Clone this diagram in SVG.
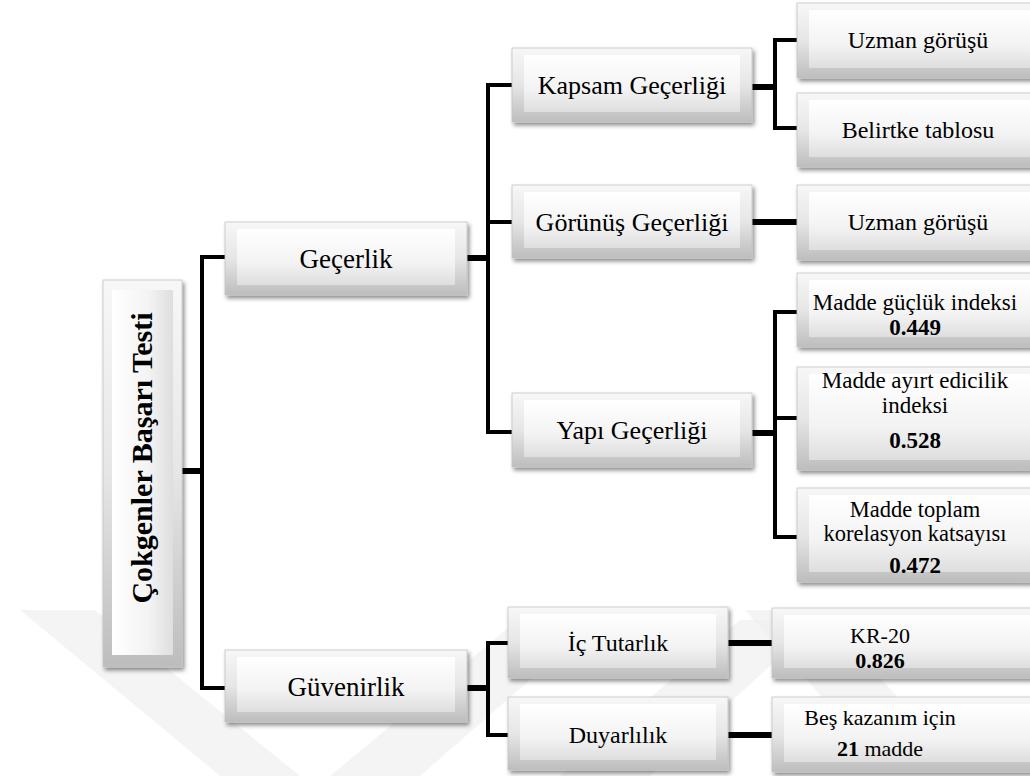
<svg xmlns="http://www.w3.org/2000/svg" width="1030" height="776" viewBox="0 0 1030 776">
<defs>
<linearGradient id="gOuter" x1="0" y1="0" x2="0" y2="1">
<stop offset="0" stop-color="#f7f7f7"/>
<stop offset="0.5" stop-color="#e6e6e6"/>
<stop offset="1" stop-color="#bdbdbd"/>
</linearGradient>
<linearGradient id="gInner" x1="0" y1="0" x2="0" y2="1">
<stop offset="0" stop-color="#ffffff"/>
<stop offset="0.6" stop-color="#f3f3f3"/>
<stop offset="1" stop-color="#dedede"/>
</linearGradient>
<linearGradient id="gInnerV" x1="0" y1="0" x2="1" y2="0">
<stop offset="0" stop-color="#ffffff"/>
<stop offset="0.6" stop-color="#f3f3f3"/>
<stop offset="1" stop-color="#dedede"/>
</linearGradient>
<filter id="sh" x="-10%" y="-20%" width="125%" height="150%">
<feDropShadow dx="2" dy="3" stdDeviation="2" flood-color="#000" flood-opacity="0.45"/>
</filter>
</defs>
<style>
.o{fill:url(#gOuter);stroke:#c4c4c4;stroke-width:0.8;filter:url(#sh)}
.i{fill:url(#gInner);stroke:none}
.t{font-family:"Liberation Serif","Times New Roman",serif;fill:#000;text-anchor:middle}
.b{font-weight:bold}
.ln{stroke:#000;stroke-width:4;fill:none;stroke-linecap:butt}
.st{stroke:#000;stroke-width:6;fill:none}
.wm{fill:#efefef;opacity:0.7}
</style>
<rect width="1030" height="776" fill="#ffffff"/>
<g id="watermark">
<polygon class="wm" points="20,610 95,610 300,776 220,776"/>
<polygon class="wm" points="330,776 420,776 610,610 530,610"/>
<polygon class="wm" points="560,776 650,776 820,620 740,620"/>
<polygon class="wm" points="745,610 820,610 900,700 860,740"/>
</g>
<g id="connectors">
<line class="st" x1="182" y1="471" x2="204" y2="471"/>
<line class="ln" x1="202" y1="255" x2="202" y2="690"/>
<line class="ln" x1="200" y1="257" x2="226" y2="257"/>
<line class="ln" x1="200" y1="688" x2="226" y2="688"/>
<line class="st" x1="467" y1="258" x2="490" y2="258"/>
<line class="ln" x1="488" y1="83" x2="488" y2="434"/>
<line class="ln" x1="486" y1="85" x2="513" y2="85"/>
<line class="ln" x1="486" y1="222" x2="513" y2="222"/>
<line class="ln" x1="486" y1="432" x2="513" y2="432"/>
<line class="st" x1="752" y1="87" x2="777" y2="87"/>
<line class="ln" x1="775" y1="38" x2="775" y2="130"/>
<line class="ln" x1="773" y1="40" x2="798" y2="40"/>
<line class="ln" x1="773" y1="128" x2="798" y2="128"/>
<line class="st" x1="752" y1="222" x2="798" y2="222"/>
<line class="st" x1="752" y1="433" x2="777" y2="433"/>
<line class="ln" x1="775" y1="310" x2="775" y2="539"/>
<line class="ln" x1="773" y1="312" x2="798" y2="312"/>
<line class="ln" x1="773" y1="418" x2="798" y2="418"/>
<line class="ln" x1="773" y1="537" x2="798" y2="537"/>
<line class="st" x1="467" y1="688" x2="490" y2="688"/>
<line class="ln" x1="488" y1="641" x2="488" y2="737"/>
<line class="ln" x1="486" y1="643" x2="509" y2="643"/>
<line class="ln" x1="486" y1="735" x2="509" y2="735"/>
<line class="st" x1="728" y1="643" x2="772" y2="643"/>
<line class="st" x1="728" y1="735" x2="772" y2="735"/>
</g>
<g id="root">
<rect class="o" x="103" y="280" width="79" height="387"/>
<rect x="112" y="290" width="61" height="365" fill="url(#gInnerV)"/>
<text class="t b" x="152" y="458" font-size="30" transform="rotate(-90 152 458)">Çokgenler Başarı Testi</text>
</g>
<g id="gecerlik">
<rect class="o" x="225" y="222" width="242" height="73"/>
<rect class="i" x="237" y="229" width="218" height="56"/>
<text class="t" x="346" y="268" font-size="27">Geçerlik</text>
</g>
<g id="guvenirlik">
<rect class="o" x="225" y="650" width="242" height="72"/>
<rect class="i" x="237" y="657" width="218" height="55"/>
<text class="t" x="346" y="696" font-size="27">Güvenirlik</text>
</g>
<g id="kapsam">
<rect class="o" x="512" y="48" width="240" height="74"/>
<rect class="i" x="524" y="55" width="216" height="57"/>
<text class="t" x="632" y="94" font-size="26">Kapsam Geçerliği</text>
</g>
<g id="gorunus">
<rect class="o" x="512" y="185" width="240" height="73"/>
<rect class="i" x="524" y="192" width="216" height="56"/>
<text class="t" x="632" y="231" font-size="26">Görünüş Geçerliği</text>
</g>
<g id="yapi">
<rect class="o" x="512" y="393" width="240" height="74"/>
<rect class="i" x="524" y="400" width="216" height="57"/>
<text class="t" x="632" y="439" font-size="26">Yapı Geçerliği</text>
</g>
<g id="ic">
<rect class="o" x="508" y="607" width="220" height="71"/>
<rect class="i" x="520" y="614" width="196" height="54"/>
<text class="t" x="618" y="651" font-size="24">İç Tutarlık</text>
</g>
<g id="duyarlilik">
<rect class="o" x="508" y="697" width="220" height="73"/>
<rect class="i" x="520" y="704" width="196" height="56"/>
<text class="t" x="618" y="743" font-size="24">Duyarlılık</text>
</g>
<g id="uzman1">
<rect class="o" x="797" y="3" width="245" height="75"/>
<rect class="i" x="809" y="10" width="221" height="58"/>
<text class="t" x="918" y="48" font-size="24">Uzman görüşü</text>
</g>
<g id="belirtke">
<rect class="o" x="797" y="93" width="245" height="74"/>
<rect class="i" x="809" y="100" width="221" height="57"/>
<text class="t" x="918" y="138" font-size="24">Belirtke tablosu</text>
</g>
<g id="uzman2">
<rect class="o" x="797" y="185" width="245" height="75"/>
<rect class="i" x="809" y="192" width="221" height="58"/>
<text class="t" x="918" y="230" font-size="24">Uzman görüşü</text>
</g>
<g id="guclk">
<rect class="o" x="797" y="273" width="245" height="74"/>
<rect class="i" x="809" y="280" width="221" height="57"/>
<text class="t" x="915" y="310" font-size="23">Madde güçlük indeksi</text>
<text class="t b" x="915" y="335" font-size="23">0.449</text>
</g>
<g id="ayirt">
<rect class="o" x="797" y="367" width="245" height="103"/>
<rect class="i" x="809" y="374" width="221" height="86"/>
<text class="t" x="915" y="388" font-size="23">Madde ayırt edicilik</text>
<text class="t" x="915" y="413" font-size="23">indeksi</text>
<text class="t b" x="915" y="448" font-size="23">0.528</text>
</g>
<g id="toplam">
<rect class="o" x="797" y="488" width="245" height="94"/>
<rect class="i" x="809" y="495" width="221" height="77"/>
<text class="t" x="915" y="517" font-size="22.5">Madde toplam</text>
<text class="t" x="915" y="541" font-size="22.5">korelasyon katsayısı</text>
<text class="t b" x="915" y="573" font-size="23">0.472</text>
</g>
<g id="kr20">
<rect class="o" x="772" y="608" width="270" height="70"/>
<rect class="i" x="784" y="615" width="246" height="53"/>
<text class="t" x="880" y="643" font-size="22">KR-20</text>
<text class="t b" x="880" y="668" font-size="22">0.826</text>
</g>
<g id="bes">
<rect class="o" x="772" y="697" width="270" height="75"/>
<rect class="i" x="784" y="704" width="246" height="58"/>
<text class="t" x="880" y="725" font-size="22">Beş kazanım için</text>
<text class="t" x="880" y="756" font-size="22"><tspan class="b">21</tspan> madde</text>
</g>
</svg>
